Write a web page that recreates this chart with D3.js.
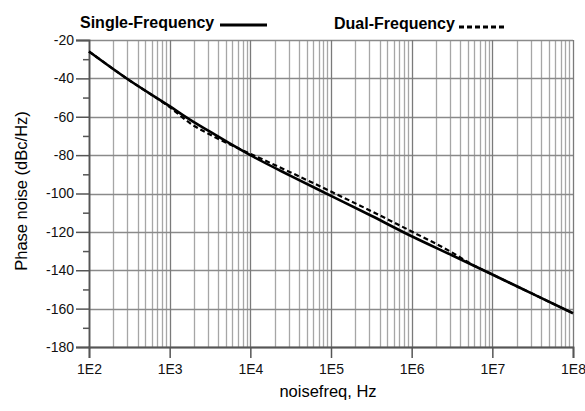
<!DOCTYPE html>
<html>
<head>
<meta charset="utf-8">
<script src="https://cdn.jsdelivr.net/npm/d3@7"></script>
<style>
  body { margin: 0; background: #fff; }
  svg { display: block; font-family: "Liberation Sans", Arial, sans-serif; }
</style>
</head>
<body>
<svg width="585" height="411"></svg>
<script>
// data
var singleFreq = [1e2, 3.16e2, 1e3, 1.78e3, 3.16e3, 5.62e3, 1e4, 3.16e4, 1e5, 3.16e5, 1e6, 3.16e6, 1e7, 3.16e7, 1e8];
var singleDb   = [-26, -41, -54.5, -61.5, -67.8, -74, -80, -90.8, -101.2, -111.6, -122.3, -132.2, -142.2, -152.3, -162.4];

var dualFreq = [1e2, 3.16e2, 1e3, 1.78e3, 3.16e3, 5.62e3, 1e4, 3.16e4, 1e5, 3.16e5, 1e6, 3.16e6, 5.62e6, 1e7, 3.16e7, 1e8];
var dualDb   = [-26, -41, -55, -63.3, -69.3, -74.5, -79.3, -89, -99, -109.2, -119.8, -130.7, -137, -142.2, -152.3, -162.4];

var yTicks = [-180, -160, -140, -120, -100, -80, -60, -40, -20];
var yMinor = [-170, -150, -130, -110, -90, -70, -50, -30];
var xTickLabels = ["1E2", "1E3", "1E4", "1E5", "1E6", "1E7", "1E8"];

var svg = d3.select("svg");
var plotLeft = 89, plotRight = 573, plotTop = 40, plotBottom = 347;

var x = d3.scaleLog().domain([1e2, 1e8]).range([plotLeft, plotRight]);
var y = d3.scaleLinear().domain([-180, -20]).range([plotBottom, plotTop]);

// vertical grid: 2..9 in every decade
var minorX = [];
for (var e = 2; e < 8; e++) {
    for (var m = 2; m <= 9; m++) minorX.push(m * Math.pow(10, e));
}
var decades = d3.range(2, 9).map(function (e) { return Math.pow(10, e); });

svg.append("g").selectAll("line").data(minorX).join("line")
    .attr("x1", function (d) { return Math.round(x(d)) + 0.5; })
    .attr("x2", function (d) { return Math.round(x(d)) + 0.5; })
    .attr("y1", plotTop).attr("y2", plotBottom)
    .attr("stroke", "#a6a6a6").attr("stroke-width", 1.3);

svg.append("g").selectAll("line").data(yTicks).join("line")
    .attr("x1", plotLeft).attr("x2", plotRight)
    .attr("y1", function (d) { return Math.round(y(d)) + 0.5; })
    .attr("y2", function (d) { return Math.round(y(d)) + 0.5; })
    .attr("stroke", "#8a8a8a").attr("stroke-width", 1.3);

svg.append("g").selectAll("line").data(decades).join("line")
    .attr("x1", function (d) { return Math.round(x(d)) + 0.5; })
    .attr("x2", function (d) { return Math.round(x(d)) + 0.5; })
    .attr("y1", plotTop).attr("y2", plotBottom)
    .attr("stroke", "#7a7a7a").attr("stroke-width", 1.3);

// axes
var xAxis = d3.axisBottom(x).tickValues(decades).tickSize(11).tickPadding(6)
    .tickFormat(function (d, i) { return xTickLabels[i]; });
svg.append("g").attr("transform", "translate(0," + plotBottom + ")").call(xAxis);

var yAxis = d3.axisLeft(y).tickValues(yTicks).tickSize(13).tickPadding(2)
    .tickFormat(function (d) { return String(d); });
svg.append("g").attr("transform", "translate(" + plotLeft + ",0)").call(yAxis);

svg.append("g").attr("transform", "translate(" + plotLeft + ",0)")
    .call(d3.axisLeft(y).tickValues(yMinor).tickSize(6).tickFormat(""))
    .select(".domain").remove();

svg.selectAll(".domain").attr("stroke", "#555").attr("stroke-width", 1.8);
svg.selectAll(".tick line").attr("stroke", "#555").attr("stroke-width", 1.5);
svg.selectAll(".tick text").attr("fill", "#111").style("font-size", "14px")
    .style("font-family", "\"Liberation Sans\", Arial, sans-serif");

// series
var line = d3.line().curve(d3.curveMonotoneX);

svg.append("path")
    .attr("d", line(dualFreq.map(function (f, i) { return [x(f), y(dualDb[i])]; })))
    .attr("fill", "none").attr("stroke", "#000").attr("stroke-width", 2.2)
    .attr("stroke-dasharray", "5,3");

svg.append("path")
    .attr("d", line(singleFreq.map(function (f, i) { return [x(f), y(singleDb[i])]; })))
    .attr("fill", "none").attr("stroke", "#000").attr("stroke-width", 2.6);

// legend
svg.append("text").attr("x", 80).attr("y", 28)
    .style("font-size", "16px").style("font-weight", "bold").text("Single-Frequency");
svg.append("line").attr("x1", 220).attr("x2", 267).attr("y1", 25).attr("y2", 25)
    .attr("stroke", "#000").attr("stroke-width", 3);

svg.append("text").attr("x", 334).attr("y", 29)
    .style("font-size", "16px").style("font-weight", "bold").text("Dual-Frequency");
svg.append("line").attr("x1", 459).attr("x2", 504).attr("y1", 27).attr("y2", 27)
    .attr("stroke", "#000").attr("stroke-width", 3).attr("stroke-dasharray", "5,3");

// axis titles
svg.append("text").attr("x", 328).attr("y", 397).attr("text-anchor", "middle")
    .style("font-size", "16.5px").text("noisefreq, Hz");
svg.append("text").attr("transform", "translate(27,191) rotate(-90)")
    .attr("text-anchor", "middle").style("font-size", "16.5px").text("Phase noise (dBc/Hz)");
</script>
</body>
</html>
